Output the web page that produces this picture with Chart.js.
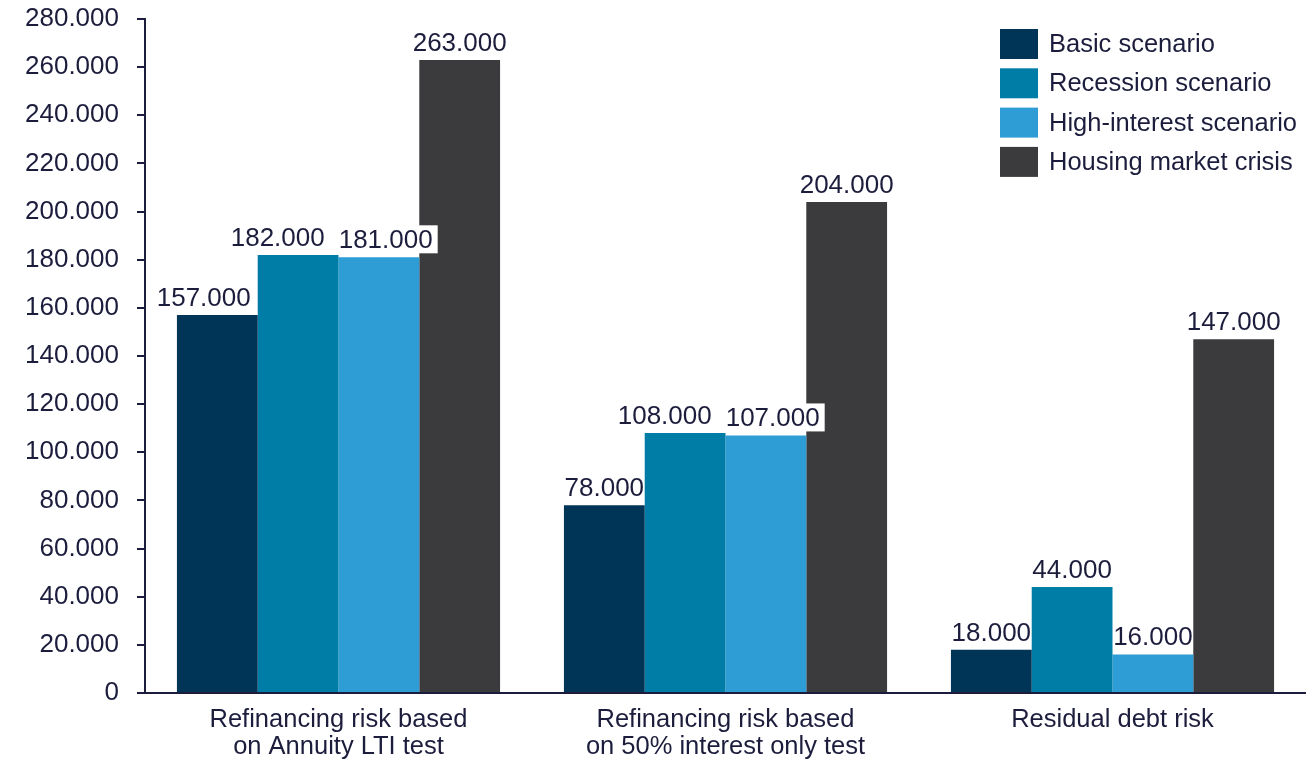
<!DOCTYPE html>
<html>
<head>
<meta charset="utf-8">
<script src="https://cdn.jsdelivr.net/npm/chart.js@4/dist/chart.umd.min.js"></script>
<style>
  html, body { margin: 0; padding: 0; background: #fff; }
  #wrap { width: 1306px; height: 762px; }
</style>
</head>
<body>
<div id="wrap"><canvas id="chart"></canvas></div>
<script>
let categories = [
    ["Refinancing risk based", "on Annuity LTI test"],
    ["Refinancing risk based", "on 50% interest only test"],
    ["Residual debt risk"]
];

let basicScenario = [157000, 78000, 18000];
let recessionScenario = [182000, 108000, 44000];
let highInterestScenario = [181000, 107000, 16000];
let housingCrisis = [263000, 204000, 147000];

let seriesNames = ["Basic scenario", "Recession scenario", "High-interest scenario", "Housing market crisis"];
let seriesColors = ["#003558", "#007da6", "#2e9dd6", "#3b3a3c"];

let textColor = "#1c1d3c";
let fontFamily = "'Liberation Sans', Arial, sans-serif";

function fmt(v) {
    return String(v).replace(/\B(?=(\d{3})+(?!\d))/g, ".");
}

// labels above each bar, nudged sideways when they collide,
// white box only where a label sits over another bar
let barLabels = {
    id: "barLabels",
    afterDatasetsDraw(chart) {
        let ctx = chart.ctx;
        ctx.save();
        ctx.font = "26px " + fontFamily;
        ctx.textAlign = "center";
        ctx.textBaseline = "alphabetic";
        let n = chart.data.labels.length;
        for (let c = 0; c < n; c++) {
            let items = [];
            chart.data.datasets.forEach((ds, di) => {
                let bar = chart.getDatasetMeta(di).data[c];
                let txt = fmt(ds.data[c]);
                let w = ctx.measureText(txt).width;
                items.push({ txt: txt, w: w, x: bar.x, base: bar.y - 9, bar: bar });
            });
            // keep a label off a taller neighbouring bar
            for (let i = 0; i < items.length; i++) {
                let it = items[i];
                let next = items[i + 1];
                if (next && next.bar.y < it.base) {
                    let edge = next.bar.x - next.bar.width / 2;
                    if (it.x + it.w / 2 > edge + 1) it.x = edge - 7 - it.w / 2;
                }
            }
            // push apart labels that sit at about the same height
            for (let i = 0; i < items.length - 1; i++) {
                let a = items[i], b = items[i + 1];
                if (Math.abs(a.base - b.base) < 26) {
                    let over = (a.x + a.w / 2) - (b.x - b.w / 2) + 14;
                    if (over > 0) {
                        a.x -= over / 2;
                        b.x += over / 2;
                    }
                }
            }
            items.forEach((it, i) => {
                let covers = items.some((o, j) => {
                    if (j === i) return false;
                    let l = o.bar.x - o.bar.width / 2, r = o.bar.x + o.bar.width / 2;
                    return it.x + it.w / 2 > l && it.x - it.w / 2 < r && it.base + 4 > o.bar.y;
                });
                if (covers) {
                    ctx.fillStyle = "#ffffff";
                    ctx.fillRect(it.x - it.w / 2 - 5, it.base - 23, it.w + 10, 28);
                }
                ctx.fillStyle = textColor;
                ctx.fillText(it.txt, it.x, it.base);
            });
        }
        ctx.restore();
    }
};

// legend stacked in the top right corner
let boxLegend = {
    id: "boxLegend",
    afterDraw(chart) {
        let ctx = chart.ctx;
        ctx.save();
        ctx.font = "25.5px " + fontFamily;
        ctx.textAlign = "left";
        ctx.textBaseline = "middle";
        chart.data.datasets.forEach((ds, i) => {
            let y = 44 + i * 39.3;
            ctx.fillStyle = ds.backgroundColor;
            ctx.fillRect(1000, y - 15, 38, 30);
            ctx.fillStyle = textColor;
            ctx.fillText(ds.label, 1049, y + 1);
        });
        ctx.restore();
    }
};

let datasets = [basicScenario, recessionScenario, highInterestScenario, housingCrisis].map((d, i) => {
    return {
        label: seriesNames[i],
        data: d,
        backgroundColor: seriesColors[i],
        borderWidth: 0,
        categoryPercentage: 0.835,
        barPercentage: 1.0
    };
});

new Chart(document.getElementById("chart"), {
    type: "bar",
    data: { labels: categories, datasets: datasets },
    options: {
        responsive: true,
        maintainAspectRatio: false,
        animation: false,
        layout: { padding: { top: 19, right: 0, left: 0, bottom: 0 } },
        plugins: {
            legend: { display: false },
            tooltip: { enabled: false }
        },
        scales: {
            x: {
                afterFit(scale) { scale.height = 69; },
                grid: { display: false },
                border: { display: true, color: textColor, width: 2 },
                ticks: {
                    color: textColor,
                    font: { family: fontFamily, size: 25.5, lineHeight: 1.06 },
                    padding: 5,
                    maxRotation: 0,
                    autoSkip: false
                }
            },
            y: {
                min: 0,
                max: 280000,
                afterFit(scale) {
                    scale.width = 145;
                    scale.paddingTop = 0;
                    scale.paddingBottom = 0;
                },
                grid: { drawOnChartArea: false, color: textColor, tickLength: 8, lineWidth: 2 },
                border: { display: true, color: textColor, width: 2 },
                ticks: {
                    stepSize: 20000,
                    color: textColor,
                    font: { family: fontFamily, size: 26, lineHeight: 1 },
                    padding: 18,
                    callback: v => fmt(v)
                }
            }
        }
    },
    plugins: [barLabels, boxLegend]
});
</script>
</body>
</html>
